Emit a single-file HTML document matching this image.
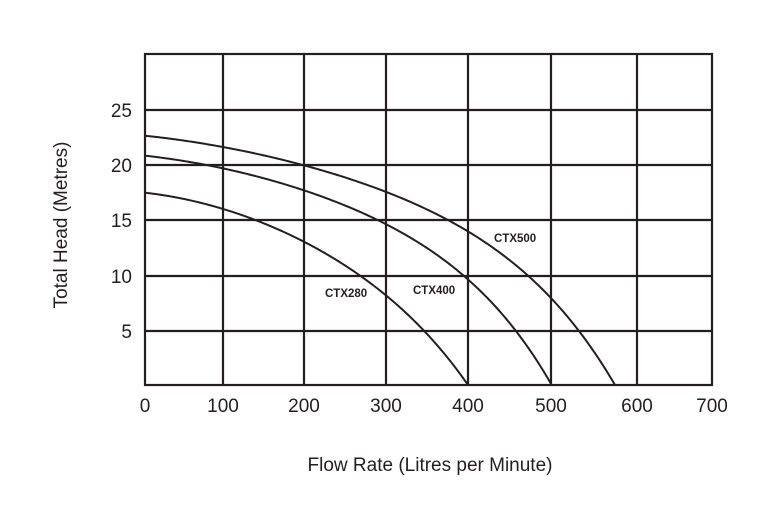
<!DOCTYPE html>
<html><head><meta charset="utf-8"><style>
html,body{margin:0;padding:0;background:#fff;}
svg{display:block;font-family:"Liberation Sans",Arial,sans-serif;}
</style></head><body>
<svg id="s" width="779" height="526" viewBox="0 0 779 526" xmlns="http://www.w3.org/2000/svg">
<g stroke="#231f20" stroke-width="2.2" fill="none">
<rect x="145" y="54" width="567" height="331"/>
<line x1="223" y1="54" x2="223" y2="385"/>
<line x1="304" y1="54" x2="304" y2="385"/>
<line x1="386" y1="54" x2="386" y2="385"/>
<line x1="468" y1="54" x2="468" y2="385"/>
<line x1="551" y1="54" x2="551" y2="385"/>
<line x1="637" y1="54" x2="637" y2="385"/>
<line x1="145" y1="110" x2="712" y2="110"/>
<line x1="145" y1="165" x2="712" y2="165"/>
<line x1="145" y1="220" x2="712" y2="220"/>
<line x1="145" y1="276" x2="712" y2="276"/>
<line x1="145" y1="331" x2="712" y2="331"/>
</g>
<g id="curves" stroke="#231f20" stroke-width="2" fill="none"></g>
<g fill="#231f20" font-size="19" text-anchor="middle">
<text x="145" y="412">0</text><text x="223" y="412">100</text><text x="304" y="412">200</text>
<text x="386" y="412">300</text><text x="468" y="412">400</text><text x="551" y="412">500</text>
<text x="637" y="412">600</text><text x="712" y="412">700</text>
</g>
<g fill="#231f20" font-size="19" text-anchor="end">
<text x="132" y="117">25</text><text x="132" y="172">20</text><text x="132" y="227">15</text>
<text x="132" y="283">10</text><text x="132" y="338">5</text>
</g>
<text x="430" y="471" font-size="19" text-anchor="middle" fill="#231f20">Flow Rate (Litres per Minute)</text>
<text transform="translate(67,225) rotate(-90)" font-size="19" text-anchor="middle" fill="#231f20">Total Head (Metres)</text>
<g font-size="11.5" font-weight="bold" fill="#231f20">
<text x="494" y="242">CTX500</text>
<text x="325" y="297">CTX280</text>
<text x="413" y="294">CTX400</text>
</g>
</svg>
<script>
var curves=[[135.7,615,50,110,89.3],[155.7,551.7,45,110,74.3],[192.7,468,36.8,126,29.5]];
var g=document.getElementById('curves');
curves.forEach(function(c){
 var y0=c[0],U=c[1]-145,s='';
 for(var i=0;i<=200;i++){
  var t=i/200,x=145+U*t,y=y0+c[2]*t+c[3]*t*t+c[4]*Math.pow(t,6);
  s+=(i?' L':'M')+x.toFixed(2)+','+y.toFixed(2);
 }
 var e=document.createElementNS('http://www.w3.org/2000/svg','path');
 e.setAttribute('d',s);g.appendChild(e);
});
</script>
</body></html>
